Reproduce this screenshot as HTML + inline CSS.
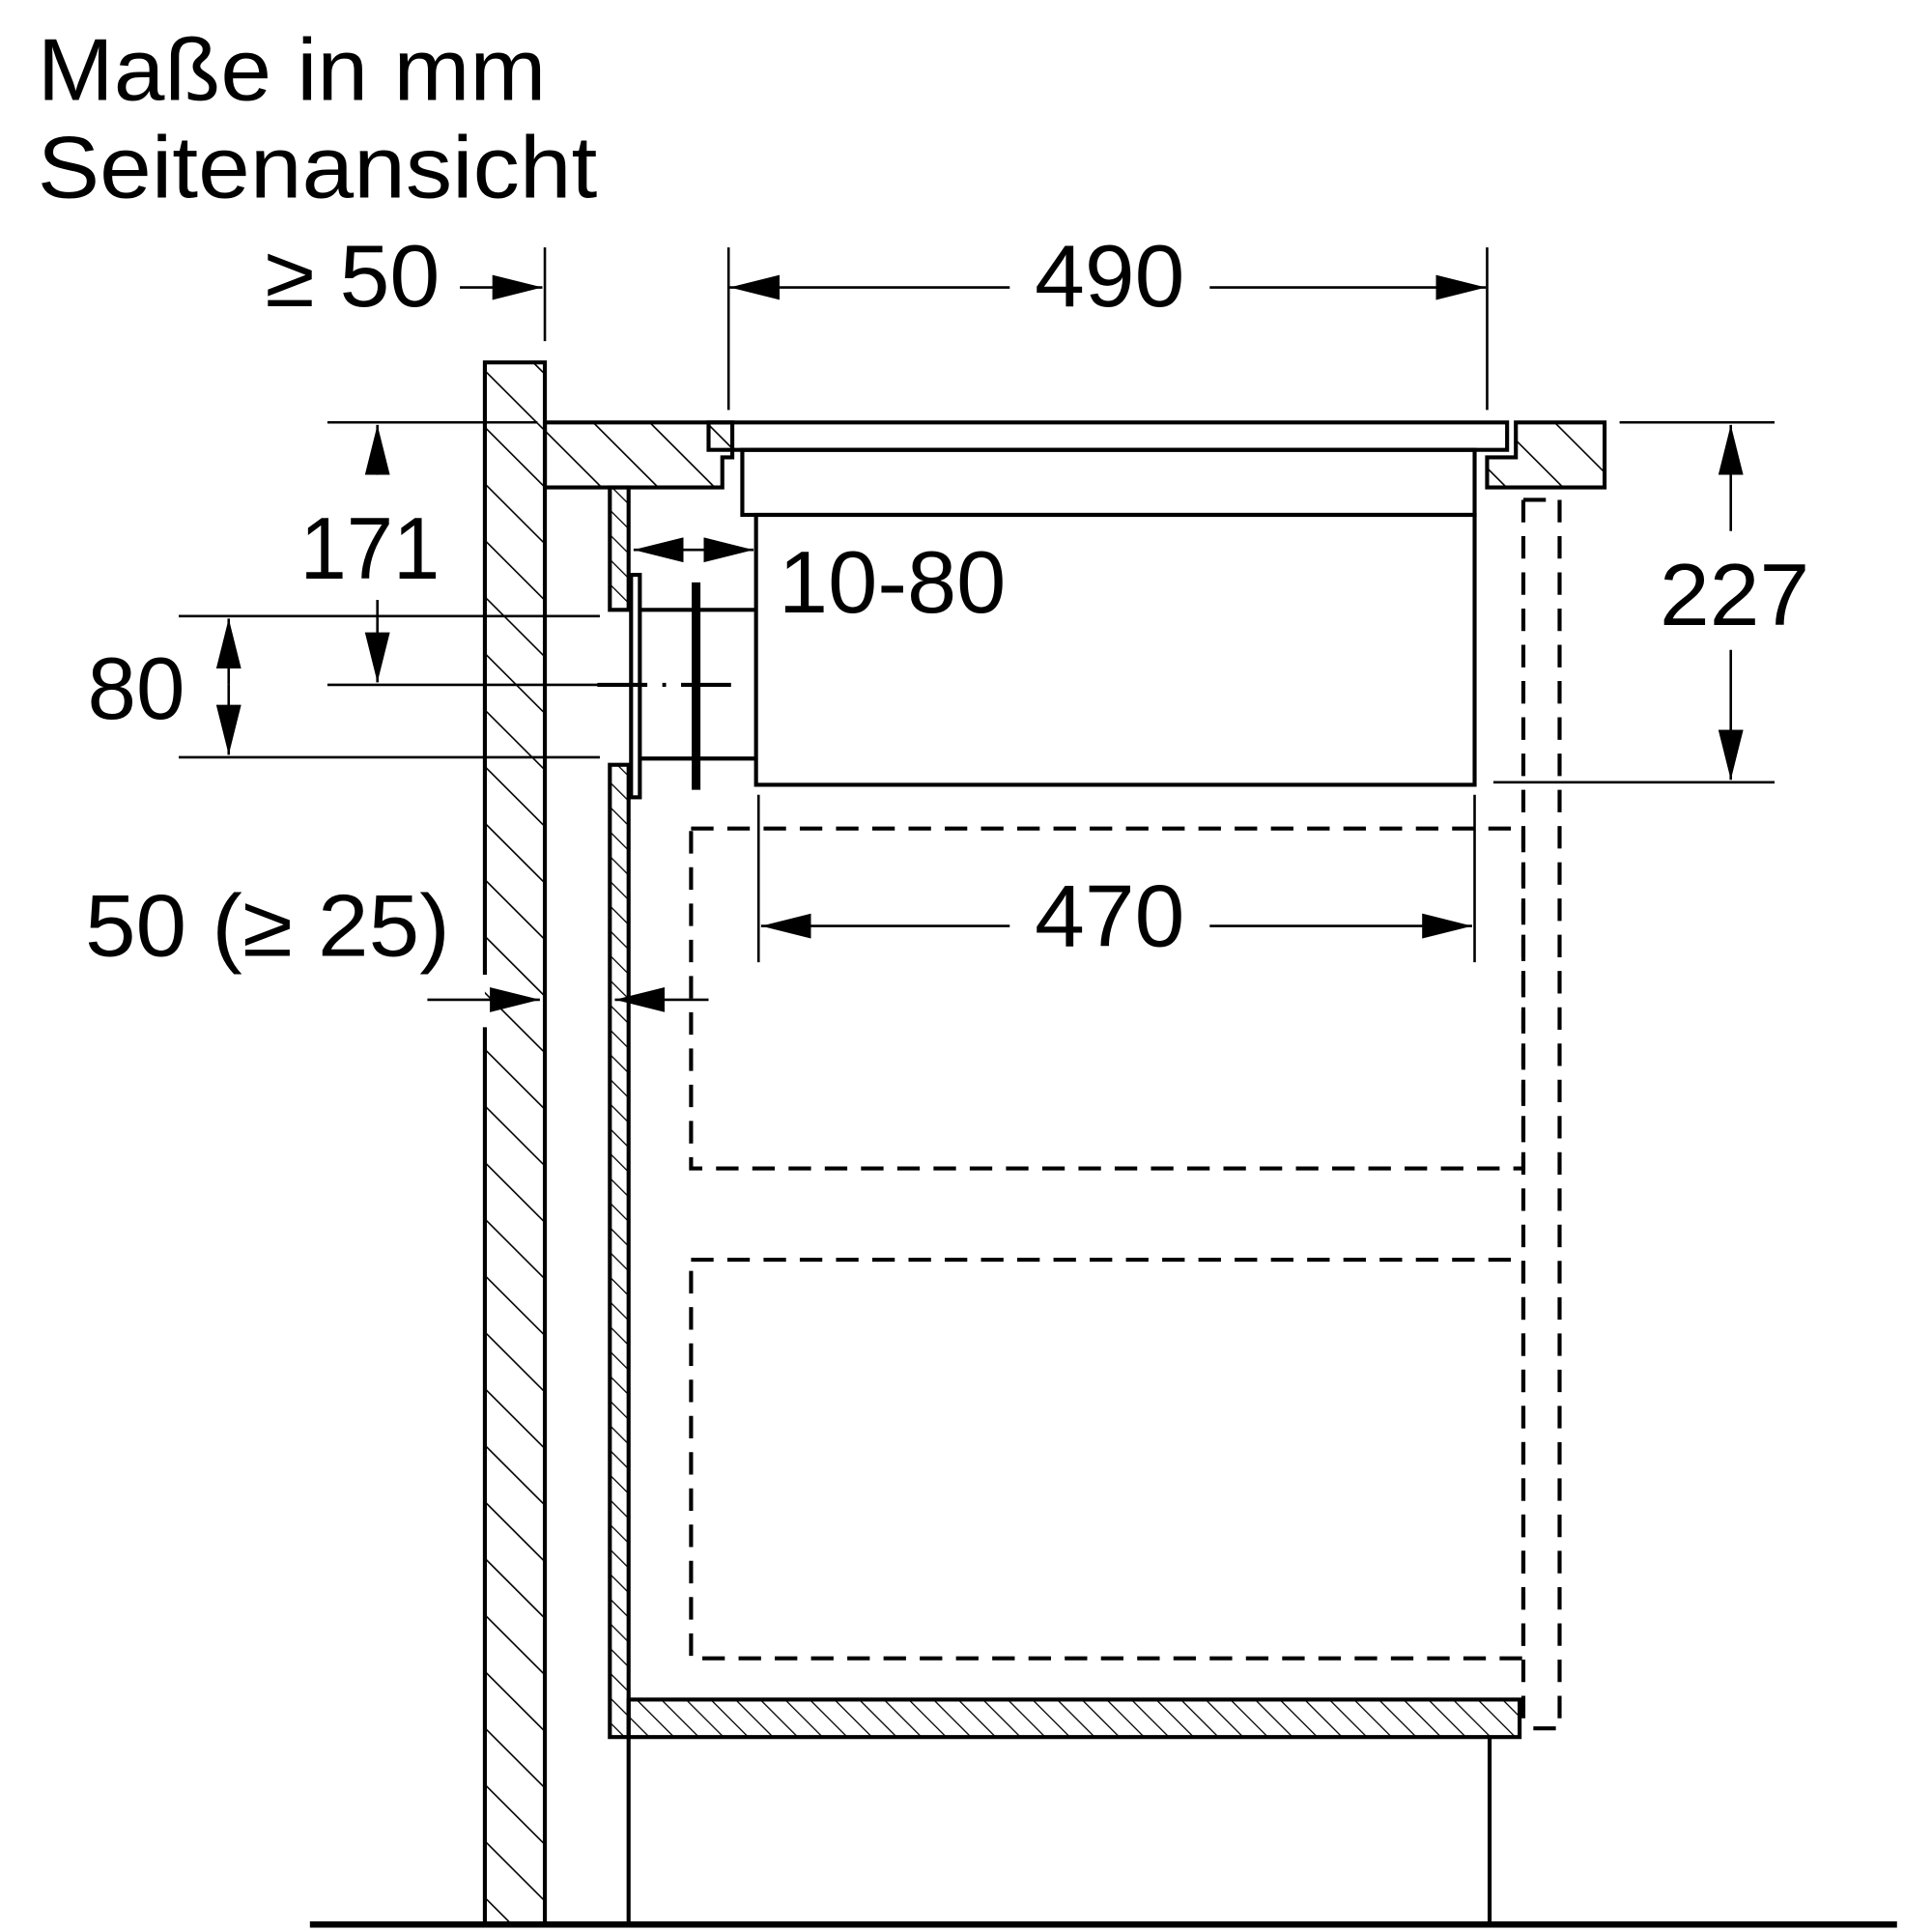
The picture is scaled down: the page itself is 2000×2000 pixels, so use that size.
<!DOCTYPE html>
<html><head><meta charset="utf-8"><style>
html,body{margin:0;padding:0;background:#fff;}
svg{display:block;}
text{font-family:"Liberation Sans",Arial,sans-serif;fill:#000;}
</style></head><body>
<svg width="2000" height="2000" viewBox="0 0 1546 1546" xmlns="http://www.w3.org/2000/svg">
<defs>
<pattern id="h1" width="32" height="32" patternUnits="userSpaceOnUse" patternTransform="rotate(-45)">
<line x1="0" y1="0" x2="0" y2="32" stroke="#000" stroke-width="2.5"/></pattern>
<pattern id="h2" width="14" height="14" patternUnits="userSpaceOnUse" patternTransform="rotate(-45)">
<line x1="0" y1="0" x2="0" y2="14" stroke="#000" stroke-width="2"/></pattern>
<marker id="a" viewBox="0 0 40 20" refX="40" refY="10" markerWidth="40" markerHeight="20" markerUnits="userSpaceOnUse" orient="auto-start-reverse">
<path d="M0,0 L40,10 L0,20 Z" fill="#000"/></marker>
</defs>
<rect width="1546" height="1546" fill="#fff"/>
<text x="30" y="80" font-size="70" textLength="407" lengthAdjust="spacingAndGlyphs">Maße in mm</text>
<text x="30" y="158" font-size="70" textLength="448" lengthAdjust="spacingAndGlyphs">Seitenansicht</text>

<g fill="none" stroke="#000" stroke-width="3.2">
<rect x="388" y="290" width="48" height="1248" fill="url(#h1)" stroke="none"/>
<path d="M388,1538 V822 M388,780 V290 H436 V1538"/>
<line x1="248" y1="1540" x2="1518" y2="1540" stroke-width="5"/>
<path d="M436,338 H586 V366 H578 V390 H436 Z" fill="url(#h1)"/>
<path d="M1213,338 H1284 V390 H1190 V366 H1213 Z" fill="url(#h1)"/>
<path d="M567,338 H1206 V360 H567 Z"/>
<rect x="594" y="360" width="586" height="52"/>
<rect x="605" y="412" width="575" height="216"/>
<rect x="488" y="390" width="15" height="98" fill="url(#h2)"/>
<rect x="488" y="612" width="15" height="778" fill="url(#h2)"/>
<rect x="505" y="460" width="7" height="178" fill="#fff"/>
<path d="M512,488 H605 M512,607 H605"/>
<line x1="557" y1="466" x2="557" y2="632" stroke-width="7"/>
<rect x="503" y="1360" width="713" height="30" fill="url(#h2)"/>
<path d="M503,1390 V1538 M1192,1390 V1538"/>
<g stroke-dasharray="18,11">
<rect x="553" y="663" width="666" height="272"/>
<rect x="553" y="1008" width="666" height="319"/>
<path d="M1219,400 H1248 V1383 H1219 M1219,400 V1383"/>
</g>
<line x1="262" y1="548" x2="480" y2="548" stroke-width="2"/>
<path d="M478,548 H592" stroke-dasharray="40,12,3,12"/>
</g>

<g fill="none" stroke="#000" stroke-width="2">
<path d="M436,198 V273 M583,198 V328 M1190,198 V328 M262,338 H430 M143,493 H480 M143,606 H480 M1296,338 H1420 M1195,626 H1420 M607,636 V770 M1180,636 V770"/>
<line x1="368" y1="230" x2="434" y2="230" marker-end="url(#a)"/>
<line x1="808" y1="230" x2="584" y2="230" marker-end="url(#a)"/>
<line x1="968" y1="230" x2="1189" y2="230" marker-end="url(#a)"/>
<line x1="302" y1="380" x2="302" y2="340" marker-end="url(#a)"/>
<line x1="302" y1="480" x2="302" y2="546" marker-end="url(#a)"/>
<line x1="183" y1="548" x2="183" y2="495" marker-end="url(#a)"/>
<line x1="183" y1="548" x2="183" y2="604" marker-end="url(#a)"/>
<line x1="555" y1="440" x2="507" y2="440" marker-end="url(#a)"/>
<line x1="555" y1="440" x2="603" y2="440" marker-end="url(#a)"/>
<line x1="1385" y1="425" x2="1385" y2="340" marker-end="url(#a)"/>
<line x1="1385" y1="520" x2="1385" y2="624" marker-end="url(#a)"/>
<line x1="808" y1="741" x2="609" y2="741" marker-end="url(#a)"/>
<line x1="968" y1="741" x2="1178" y2="741" marker-end="url(#a)"/>
<line x1="342" y1="800" x2="432" y2="800" marker-end="url(#a)"/>
<line x1="567" y1="800" x2="492" y2="800" marker-end="url(#a)"/>
</g>

<g font-size="70">
<text x="212" y="245" textLength="140" lengthAdjust="spacingAndGlyphs">≥ 50</text>
<text x="828" y="245" textLength="120" lengthAdjust="spacingAndGlyphs">490</text>
<text x="240" y="463" textLength="112" lengthAdjust="spacingAndGlyphs">171</text>
<text x="70" y="575" textLength="78" lengthAdjust="spacingAndGlyphs">80</text>
<text x="623" y="490" textLength="182" lengthAdjust="spacingAndGlyphs">10-80</text>
<text x="1328" y="500" textLength="120" lengthAdjust="spacingAndGlyphs">227</text>
<text x="828" y="757" textLength="120" lengthAdjust="spacingAndGlyphs">470</text>
<text x="68" y="765" textLength="292" lengthAdjust="spacingAndGlyphs">50 (≥ 25)</text>
</g>
</svg>
</body></html>
